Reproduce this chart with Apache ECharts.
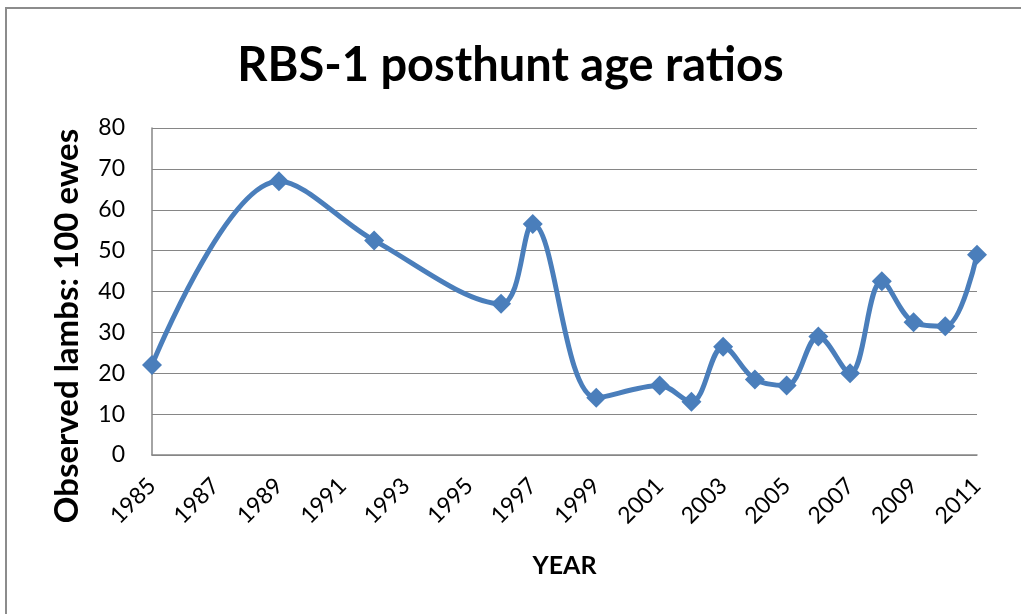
<!DOCTYPE html>
<html>
<head>
<meta charset="utf-8">
<script src="https://cdn.jsdelivr.net/npm/echarts@6/dist/echarts.min.js"></script>
<style>
  html, body { margin: 0; padding: 0; background: #fff; }
  #chart { width: 1021px; height: 614px; }
</style>
</head>
<body>
<div id="chart"></div>
<script>
// data
var years = [1985, 1989, 1992, 1996, 1997, 1999, 2001, 2002, 2003, 2004, 2005, 2006, 2007, 2008, 2009, 2010, 2011];
var ratios = [22, 67, 52.5, 37, 56.5, 14, 17, 13, 26.5, 18.5, 17, 29, 20, 42.5, 32.5, 31.5, 49];
var yearMin = 1985, yearMax = 2011, yearStep = 2;
var ratioMin = 0, ratioMax = 80, ratioStep = 10;

var font = 'Lato, "Open Sans", sans-serif';

var chart = echarts.init(document.getElementById('chart'));
chart.setOption({
    animation: false,
    backgroundColor: '#fff',
    graphic: [{
        type: 'rect',
        shape: { x: 6, y: 8, width: 1030, height: 620 },
        style: { fill: 'none', stroke: '#8c8c8c', lineWidth: 2 }
    }, {
        // y axis title, sits lower than the plot middle in the original
        type: 'text',
        x: 67,
        y: 326,
        rotation: Math.PI / 2,
        style: {
            text: 'Observed lambs: 100 ewes',
            fontFamily: font,
            fontSize: 33,
            fontWeight: 'bold',
            fill: '#000',
            align: 'center',
            verticalAlign: 'middle'
        }
    }],
    title: {
        text: 'RBS-1 posthunt age ratios',
        left: 'center',
        top: 37,
        textStyle: { fontFamily: font, fontSize: 47, fontWeight: 'bold', color: '#000' }
    },
    grid: { left: 152, right: 44, top: 128, bottom: 159 },
    xAxis: {
        type: 'value',
        min: yearMin,
        max: yearMax,
        interval: yearStep,
        name: 'YEAR',
        nameLocation: 'middle',
        nameGap: 98,
        nameTextStyle: { fontFamily: font, fontSize: 25, fontWeight: 'bold', color: '#000' },
        axisLine: { show: true, lineStyle: { color: '#868686', width: 1.5 } },
        axisTick: { show: false },
        splitLine: { show: false },
        axisLabel: {
            rotate: 45,
            margin: 27,
            fontFamily: font,
            fontSize: 23,
            color: '#000',
            formatter: function (v) { return String(v); }
        }
    },
    yAxis: {
        type: 'value',
        min: ratioMin,
        max: ratioMax,
        interval: ratioStep,
        axisLine: { show: true, lineStyle: { color: '#868686', width: 1.5 } },
        axisTick: { show: false },
        splitLine: { show: true, lineStyle: { color: '#868686', width: 1.2 } },
        axisLabel: { margin: 27, fontFamily: font, fontSize: 23, color: '#000' }
    },
    series: [{
        type: 'line',
        data: years.map(function (y, i) { return [y, ratios[i]]; }),
        smooth: 0.35,
        symbol: 'diamond',
        symbolSize: 20,
        lineStyle: { color: '#4a7ebb', width: 5 },
        itemStyle: { color: '#4a7ebb' }
    }]
});
</script>
</body>
</html>
